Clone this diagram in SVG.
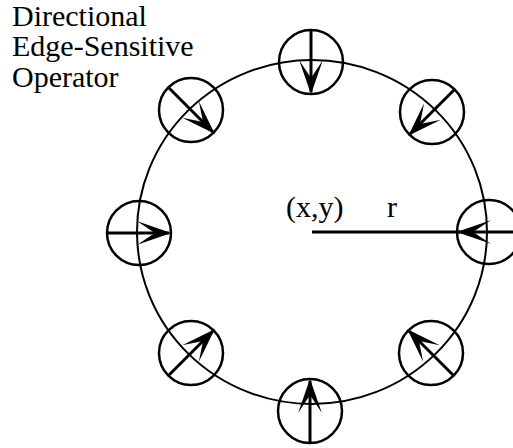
<svg xmlns="http://www.w3.org/2000/svg" width="513" height="448" viewBox="0 0 513 448">
<style>
.bg{fill:#fff}
.big{fill:none;stroke:#000;stroke-width:2}
.sc{fill:none;stroke:#000;stroke-width:2.5}
.ar{stroke:#000;stroke-width:3;fill:none;marker-end:url(#ah)}
.ln{stroke:#000;stroke-width:3;fill:none}
.t{font-family:"Liberation Serif","Times New Roman",serif;font-size:30px;fill:#000}
.l{font-family:"Liberation Serif","Times New Roman",serif;font-size:30px;fill:#000}
</style>
<defs>
<marker id="ah" markerUnits="userSpaceOnUse" orient="auto" markerWidth="40" markerHeight="30" viewBox="-30 -12 34 24" refX="0" refY="0">
<path d="M2,0 L-27,-10 L-12,0 L-27,10 Z" fill="#000"/>
</marker>
</defs>
<rect class="bg" width="513" height="448"/>
<g id="title">
<text class="t" x="12" y="26">Directional</text>
<text class="t" x="12" y="56">Edge-Sensitive</text>
<text class="t" x="12" y="87">Operator</text>
</g>
<g id="main-circle">
<ellipse class="big" cx="312" cy="232" rx="175" ry="172"/>
</g>
<g id="center">
<text class="l" x="286" y="217">(x,y)</text>
<text class="l" x="387" y="217">r</text>
</g>
<g id="op-top"><circle class="sc" cx="311" cy="62" r="32"/></g>
<g id="op-top-right"><circle class="sc" cx="432" cy="112" r="32"/></g>
<g id="op-right"><circle class="sc" cx="489" cy="232" r="32"/></g>
<g id="op-bottom-right"><circle class="sc" cx="431" cy="353" r="32"/></g>
<g id="op-bottom"><circle class="sc" cx="310" cy="411" r="32"/></g>
<g id="op-bottom-left"><circle class="sc" cx="191" cy="353" r="32"/></g>
<g id="op-left"><circle class="sc" cx="139" cy="233" r="32"/></g>
<g id="op-top-left"><circle class="sc" cx="191" cy="110" r="32"/></g>
<g id="connectors">
<line class="ln" x1="312" y1="232" x2="460" y2="232"/>
<line class="ar" x1="311" y1="29" x2="311" y2="92"/>
<line class="ar" x1="455" y1="89" x2="410" y2="134"/>
<line class="ar" x1="522" y1="232" x2="459" y2="232"/>
<line class="ar" x1="454" y1="376" x2="409" y2="331"/>
<line class="ar" x1="310" y1="444" x2="310" y2="381"/>
<line class="ar" x1="168" y1="376" x2="213" y2="331"/>
<line class="ar" x1="106" y1="233" x2="169" y2="233"/>
<line class="ar" x1="168" y1="87" x2="213" y2="132"/>
</g>
</svg>
